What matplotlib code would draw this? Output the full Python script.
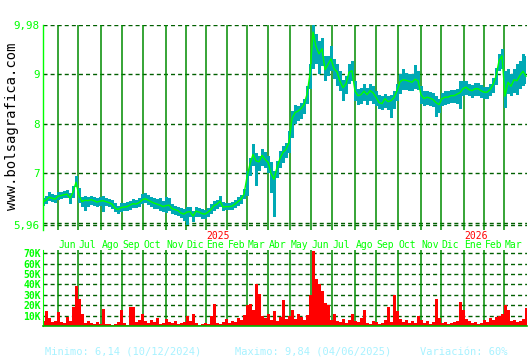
import matplotlib
matplotlib.use("Agg")
import matplotlib.pyplot as plt
import matplotlib.transforms as mtransforms
import numpy as np

plt.rcParams["font.family"] = ["DejaVu Sans Mono", "DejaVu Sans"]

# one sample every 3 trading days, starting mid-May 2024
STEP = 3
close = [
    6.42, 6.46, 6.52, 6.50, 6.48, 6.54, 6.55, 6.57, 6.58, 6.50,
    6.62, 6.82, 6.55, 6.43, 6.46, 6.45, 6.47, 6.45, 6.42, 6.44,
    6.45, 6.43, 6.41, 6.38, 6.30, 6.27, 6.31, 6.32, 6.33, 6.36,
    6.39, 6.38, 6.41, 6.46, 6.49, 6.46, 6.43, 6.40, 6.38, 6.36,
    6.33, 6.35, 6.36, 6.29, 6.27, 6.25, 6.20, 6.18, 6.22, 6.23,
    6.14, 6.24, 6.22, 6.19, 6.18, 6.22, 6.27, 6.35, 6.38, 6.44,
    6.32, 6.33, 6.33, 6.34, 6.38, 6.43, 6.48, 6.58, 6.93, 7.19,
    7.38, 7.25, 7.23, 7.36, 7.28, 7.22, 7.00, 6.88, 7.12, 7.30,
    7.42, 7.48, 7.62, 8.10, 8.22, 8.25, 8.30, 8.38, 8.59, 9.00,
    9.84, 9.55, 9.40, 9.50, 9.08, 9.19, 9.30, 9.10, 9.04, 8.85,
    8.72, 8.80, 9.03, 9.06, 8.65, 8.56, 8.58, 8.65, 8.58, 8.66,
    8.62, 8.53, 8.42, 8.40, 8.50, 8.44, 8.46, 8.52, 8.66, 8.84,
    8.88, 8.87, 8.85, 8.83, 8.89, 8.86, 8.58, 8.50, 8.53, 8.51,
    8.48, 8.42, 8.38, 8.50, 8.53, 8.53, 8.56, 8.56, 8.59, 8.62,
    8.70, 8.73, 8.68, 8.66, 8.70, 8.70, 8.66, 8.63, 8.63, 8.68,
    8.78, 8.95, 9.26, 9.36, 8.55, 8.83, 8.75, 8.88, 8.86, 8.97,
    9.05, 8.95,
]
high = [
    6.50, 6.55, 6.62, 6.58, 6.56, 6.62, 6.63, 6.64, 6.66, 6.60,
    6.75, 6.95, 6.70, 6.52, 6.54, 6.53, 6.55, 6.52, 6.50, 6.52,
    6.54, 6.50, 6.49, 6.46, 6.40, 6.35, 6.40, 6.40, 6.42, 6.45,
    6.48, 6.46, 6.50, 6.58, 6.60, 6.56, 6.52, 6.50, 6.48, 6.50,
    6.44, 6.52, 6.50, 6.38, 6.35, 6.33, 6.30, 6.28, 6.32, 6.33,
    6.25, 6.32, 6.30, 6.28, 6.27, 6.30, 6.38, 6.45, 6.46, 6.55,
    6.42, 6.40, 6.40, 6.42, 6.46, 6.52, 6.56, 6.68, 7.05, 7.30,
    7.58, 7.40, 7.35, 7.48, 7.42, 7.35, 7.22, 7.05, 7.25, 7.45,
    7.55, 7.60, 7.85, 8.25, 8.38, 8.36, 8.42, 8.50, 8.75, 9.20,
    9.98, 9.80, 9.65, 9.72, 9.35, 9.35, 9.55, 9.30, 9.20, 9.05,
    8.88, 8.95, 9.20, 9.25, 8.85, 8.70, 8.72, 8.80, 8.72, 8.80,
    8.75, 8.66, 8.58, 8.56, 8.60, 8.56, 8.58, 8.65, 8.80, 9.00,
    9.10, 9.02, 9.00, 9.00, 9.17, 9.05, 8.75, 8.65, 8.66, 8.64,
    8.62, 8.56, 8.50, 8.62, 8.66, 8.65, 8.68, 8.68, 8.70, 8.85,
    8.85, 8.86, 8.80, 8.78, 8.82, 8.82, 8.78, 8.74, 8.74, 8.80,
    8.92, 9.12, 9.40, 9.50, 9.05, 9.10, 9.00, 9.10, 9.20, 9.25,
    9.40, 9.35,
]
low = [
    6.35, 6.38, 6.44, 6.42, 6.40, 6.46, 6.48, 6.50, 6.50, 6.38,
    6.50, 6.72, 6.40, 6.33, 6.25, 6.32, 6.36, 6.35, 6.33, 6.35,
    6.22, 6.34, 6.32, 6.28, 6.22, 6.18, 6.22, 6.24, 6.24, 6.27,
    6.30, 6.30, 6.32, 6.38, 6.40, 6.36, 6.33, 6.28, 6.28, 6.25,
    6.22, 6.20, 6.25, 6.18, 6.17, 6.15, 6.10, 6.05, 5.97, 6.12,
    6.02, 6.12, 6.12, 6.08, 6.08, 6.12, 6.18, 6.25, 6.28, 6.32,
    6.24, 6.26, 6.26, 6.27, 6.30, 6.35, 6.38, 6.48, 6.55, 6.95,
    7.15, 6.75, 7.05, 7.15, 7.10, 7.00, 6.60, 6.12, 6.90, 7.10,
    7.20, 7.30, 7.40, 7.70, 8.00, 8.05, 8.10, 8.20, 8.40, 8.70,
    9.10, 9.20, 9.00, 9.15, 8.85, 8.95, 9.05, 8.90, 8.75, 8.65,
    8.45, 8.60, 8.80, 8.85, 8.45, 8.38, 8.40, 8.45, 8.38, 8.45,
    8.40, 8.35, 8.30, 8.28, 8.32, 8.28, 8.12, 8.30, 8.45, 8.60,
    8.68, 8.68, 8.66, 8.65, 8.70, 8.68, 8.40, 8.35, 8.38, 8.36,
    8.33, 8.13, 8.22, 8.35, 8.38, 8.40, 8.42, 8.42, 8.40, 8.30,
    8.55, 8.58, 8.55, 8.52, 8.56, 8.55, 8.52, 8.50, 8.50, 8.55,
    8.62, 8.78, 9.05, 9.10, 8.32, 8.60, 8.55, 8.62, 8.58, 8.70,
    8.75, 8.80,
]
# volume in thousands of shares
volume = [
    5, 14, 8, 4, 5, 13, 4, 3, 9, 5,
    18, 38, 26, 12, 3, 5, 3, 2, 4, 2,
    16, 2, 2, 1, 2, 4, 15, 3, 1, 18,
    18, 4, 6, 12, 5, 3, 6, 4, 8, 2,
    3, 7, 4, 3, 5, 2, 3, 4, 10, 5,
    12, 3, 1, 2, 3, 2, 10, 21, 3, 2,
    4, 7, 3, 5, 4, 8, 6, 11, 20, 21,
    15, 40, 31, 10, 8, 12, 6, 14, 5, 9,
    25, 7, 10, 15, 7, 12, 9, 6, 11, 30,
    72, 45, 40, 34, 22, 20, 6, 12, 5, 4,
    7, 3, 6, 12, 5, 4, 8, 15, 3, 2,
    5, 4, 2, 3, 6, 18, 4, 30, 14, 7,
    4, 6, 3, 5, 3, 10, 6, 3, 5, 2,
    4, 26, 8, 3, 4, 2, 3, 4, 5, 23,
    15, 7, 5, 3, 4, 2, 3, 6, 4, 8,
    6, 9, 10, 12, 20, 15, 5, 6, 4, 5,
    7, 17,
]

# trading-day index of the first session of each month
month_starts = [15, 35, 58, 79, 100, 123, 143, 163, 184, 204, 225,
                247, 268, 289, 312, 333, 355, 378, 398, 421, 441, 461]
month_names = ["Jun", "Jul", "Ago", "Sep", "Oct", "Nov", "Dic", "Ene",
               "Feb", "Mar", "Abr", "May", "Jun", "Jul", "Ago", "Sep",
               "Oct", "Nov", "Dic", "Ene", "Feb", "Mar"]
year_marks = {7: "2025", 19: "2026"}

price_levels = [5.96, 6.0, 7, 8, 9, 9.98]
price_ticks = [5.96, 7, 8, 9, 9.98]
price_labels = ["5,96", "7", "8", "9", "9,98"]
vol_ticks = [10, 20, 30, 40, 50, 60, 70]

GREEN = "#00FF00"
VLINE = "#008C00"
HDASH = "#005F00"
TEAL = "#00A9B5"
FOOT = "#A8F2FF"

W, H = 530, 360


def box(left, top, right, bottom):
    return [left / W, 1 - bottom / H, (right - left) / W, (bottom - top) / H]


fig = plt.figure(figsize=(W / 100, H / 100), dpi=100)
ax = fig.add_axes(box(43, 25, 527, 230))
axv = fig.add_axes(box(43, 250, 527, 326))

x = np.arange(len(close)) * STEP
XMAX = 484

# price panel
for lv in price_levels:
    ax.axhline(lv, color=HDASH, lw=1.0, dashes=(2.9, 2.2), zorder=1)
for m in month_starts:
    ax.axvline(m, color=VLINE, lw=1.1, zorder=1)
ax.fill_between(x, low, high, step="mid", color=TEAL, lw=0, zorder=2)
ax.plot(x, close, color=GREEN, lw=1.0, zorder=3)
ax.set_xlim(0, XMAX)
ax.set_ylim(5.86, 9.98)
ax.set_xticks([])
ax.set_yticks(price_ticks)
ax.set_yticklabels(price_labels)
ax.tick_params(axis="y", length=0, pad=2.5, labelcolor=GREEN, labelsize=7.8)
for s in ["top", "right", "bottom"]:
    ax.spines[s].set_visible(False)
ax.spines["left"].set_color(GREEN)
ax.spines["left"].set_linewidth(1.0)

# month and year labels between the panels
trans = mtransforms.blended_transform_factory(ax.transData, fig.transFigure)
for i, (m, name) in enumerate(zip(month_starts, month_names)):
    ax.text(m + 0.5, 1 - 244.5 / H, name, transform=trans, color=GREEN,
            fontsize=7, ha="left", va="center", clip_on=False)
    if i in year_marks:
        ax.text(m + 0.5, 1 - 236 / H, year_marks[i], transform=trans,
                color="red", fontsize=7, ha="left", va="center", clip_on=False)

# volume panel
for v in vol_ticks:
    axv.axhline(v, color=HDASH, lw=1.0, dashes=(2.9, 2.2), zorder=1)
for m in month_starts:
    axv.axvline(m, color=VLINE, lw=1.1, zorder=1)
axv.bar(x, volume, width=STEP, color="red", lw=0, zorder=2)
axv.set_xlim(0, XMAX)
axv.set_ylim(0, 73)
axv.set_xticks([])
axv.set_yticks(vol_ticks)
axv.set_yticklabels([f"{v}K" for v in vol_ticks])
axv.tick_params(axis="y", length=0, pad=1.5, labelcolor=GREEN, labelsize=7)
for lab in axv.get_yticklabels():
    lab.set_fontweight("bold")
for s in ["top", "right"]:
    axv.spines[s].set_visible(False)
axv.spines["left"].set_color(GREEN)
axv.spines["bottom"].set_color("#00B400")
axv.spines["bottom"].set_linewidth(1.2)

# watermark and footer
fig.text(12 / W, 1 - 126 / H, "www.bolsagrafica.com", rotation=90,
         fontsize=10, color="black", ha="center", va="center")
fig.text(45 / W, 1 - 352 / H, "Minimo: 6,14 (10/12/2024)", color=FOOT,
         fontsize=7.5, ha="left", va="center")
fig.text(235 / W, 1 - 352 / H, "Maximo: 9,84 (04/06/2025)", color=FOOT,
         fontsize=7.5, ha="left", va="center")
fig.text(420 / W, 1 - 352 / H, "Variación: 60%", color=FOOT,
         fontsize=7.5, ha="left", va="center")

fig.savefig("out.png", dpi=100)
